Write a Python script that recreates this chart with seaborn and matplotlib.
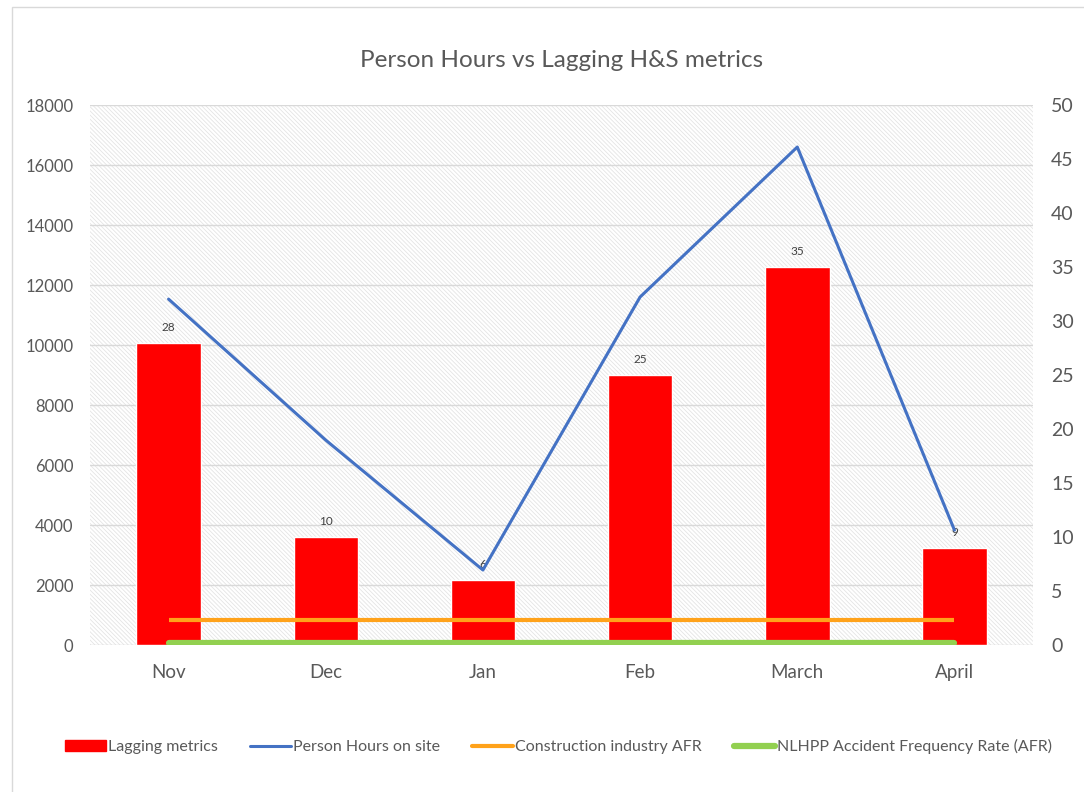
import numpy as np
import pandas as pd
import seaborn as sns
import matplotlib.pyplot as plt
from matplotlib.patches import Rectangle, Patch
from matplotlib.lines import Line2D

months = ["Nov", "Dec", "Jan", "Feb", "March", "April"]
lagging = [28, 10, 6, 25, 35, 9]
person_hours = [11530, 6830, 2500, 11600, 16600, 3830]
construction_afr = [2.3, 2.3, 2.3, 2.3, 2.3, 2.3]
nlhpp_afr = [0.2, 0.2, 0.2, 0.2, 0.2, 0.2]

sns.set_style("white")
plt.rcParams["font.family"] = ["Lato", "DejaVu Sans"]
plt.rcParams["hatch.linewidth"] = 0.6

grey = "#595959"
red = "#ff0000"
blue = "#4472c4"
orange = "#ffa21a"
green = "#92d050"

df = pd.DataFrame({"month": months, "lagging": lagging})
xpos = np.arange(len(months))

fig = plt.figure(figsize=(10.84, 7.92), dpi=100)
fig.patches.append(Rectangle((0.011, -0.01), 1.0, 1.001, transform=fig.transFigure,
                             fill=False, edgecolor="#d9d9d9", linewidth=1))

# base axes: left scale, hatched background and gridlines
ax = fig.add_axes([0.083, 0.1856, 0.870, 0.6818])
ax.set_ylim(0, 18000)
ax.set_yticks(range(0, 18001, 2000))
ax.add_patch(Rectangle((0, 0), 1, 1, transform=ax.transAxes, facecolor="white",
                       edgecolor="#e4e4e4", hatch="\\" * 8, linewidth=0, zorder=0))
ax.grid(axis="y", color="#d9d9d9", linewidth=1, zorder=1)
ax.set_axisbelow(True)

# bars on the right scale
axb = ax.twinx()
sns.barplot(data=df, x="month", y="lagging", ax=axb, color=red, width=0.41,
            saturation=1)
axb.set_ylim(0, 50)
axb.set_yticks(range(0, 51, 5))
axb.bar_label(axb.containers[0], padding=7, fontsize=8.5, color="#404040")
axb.plot(xpos, construction_afr, color=orange, linewidth=3, zorder=3,
         solid_capstyle="butt")
axb.plot(xpos, nlhpp_afr, color=green, linewidth=4.5, zorder=3,
         solid_capstyle="round")

# person hours line on top
axt = ax.twinx()
sns.lineplot(x=xpos, y=person_hours, ax=axt, color=blue, linewidth=2.2)
axt.set_ylim(0, 18000)
axt.yaxis.set_visible(False)

for a in (ax, axb, axt):
    for s in a.spines.values():
        s.set_visible(False)
    a.set_xlabel("")
    a.set_ylabel("")
    a.tick_params(length=0)

ax.set_xlim(-0.5, len(months) - 0.5)
ax.set_xticks(xpos)
ax.set_xticklabels(months)
ax.tick_params(axis="x", labelsize=13.5, labelcolor=grey, pad=14)
ax.tick_params(axis="y", labelsize=12, labelcolor=grey, pad=12)
axb.tick_params(axis="y", labelsize=14, labelcolor=grey, pad=13)

fig.suptitle("Person Hours vs Lagging H&S metrics", x=0.518, y=0.937,
             fontsize=17.5, color=grey)

handles = [
    Patch(facecolor=red, edgecolor=red),
    Line2D([0], [0], color=blue, linewidth=2.2),
    Line2D([0], [0], color=orange, linewidth=3),
    Line2D([0], [0], color=green, linewidth=4.5, solid_capstyle="round"),
]
labels = ["Lagging metrics", "Person Hours on site", "Construction industry AFR",
          "NLHPP Accident Frequency Rate (AFR)"]
fig.legend(handles, labels, loc="center", bbox_to_anchor=(0.515, 0.057), ncol=4,
           frameon=False, fontsize=11.5, labelcolor=grey, columnspacing=2.0,
           handlelength=2.6, handletextpad=0.1, handleheight=0.7)

fig.savefig("out.png", dpi=100)
